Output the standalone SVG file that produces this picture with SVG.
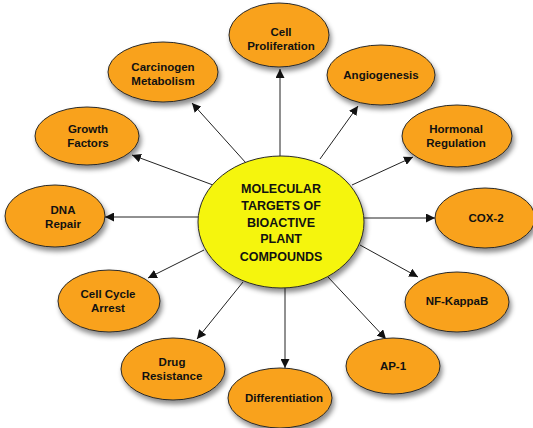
<svg xmlns="http://www.w3.org/2000/svg" width="533" height="428" viewBox="0 0 533 428">
<defs>
<filter id="sh" x="-20%" y="-20%" width="150%" height="160%">
<feDropShadow dx="2" dy="4" stdDeviation="2.5" flood-color="#000" flood-opacity="0.45"/>
</filter>
<marker id="ah" viewBox="0 0 10 10" refX="10" refY="5" markerWidth="9" markerHeight="9" markerUnits="userSpaceOnUse" orient="auto">
<path d="M0,0 L10,5 L0,10 Z" fill="#111"/>
</marker>
<style>
.n ellipse{fill:#F9A21A;stroke:#2a2a2a;stroke-width:1;filter:url(#sh)}
.c ellipse{fill:#F5F50C;stroke:#2a2a2a;stroke-width:1;filter:url(#sh)}
text{font-family:"Liberation Sans",Arial,sans-serif;font-weight:bold;fill:#111;text-anchor:middle}
.n text{font-size:11.5px}
.c text{font-size:12.5px}
.e line{stroke:#222;stroke-width:1;marker-end:url(#ah)}
</style>
</defs>
<rect width="533" height="428" fill="#fff"/>
<g class="e" id="connectors">
<line x1="280" y1="157" x2="280" y2="69"/>
<line x1="246" y1="163" x2="192" y2="103"/>
<line x1="320" y1="159" x2="358" y2="106"/>
<line x1="213" y1="185" x2="132" y2="155"/>
<line x1="352" y1="185" x2="413" y2="157"/>
<line x1="198" y1="217" x2="105" y2="217"/>
<line x1="364" y1="218" x2="435" y2="218"/>
<line x1="204" y1="250" x2="148" y2="278"/>
<line x1="360" y1="245" x2="418" y2="277"/>
<line x1="243" y1="282" x2="197" y2="339"/>
<line x1="328" y1="277" x2="386" y2="339"/>
<line x1="285" y1="288" x2="285" y2="368"/>
</g>
<g class="c" id="center">
<ellipse cx="281" cy="222" rx="83" ry="66"/>
<text x="281" y="193">MOLECULAR</text>
<text x="281" y="210">TARGETS OF</text>
<text x="281" y="227">BIOACTIVE</text>
<text x="281" y="243">PLANT</text>
<text x="281" y="261">COMPOUNDS</text>
</g>
<g class="n" id="cell-proliferation">
<ellipse cx="279" cy="35" rx="50" ry="32"/>
<text x="281" y="36">Cell</text>
<text x="281" y="50">Proliferation</text>
</g>
<g class="n" id="carcinogen-metabolism">
<ellipse cx="163" cy="72" rx="55" ry="30"/>
<text x="163" y="71">Carcinogen</text>
<text x="163" y="85">Metabolism</text>
</g>
<g class="n" id="angiogenesis">
<ellipse cx="381" cy="75" rx="54" ry="30"/>
<text x="381" y="79">Angiogenesis</text>
</g>
<g class="n" id="growth-factors">
<ellipse cx="87" cy="136" rx="52" ry="29"/>
<text x="88" y="133">Growth</text>
<text x="88" y="147">Factors</text>
</g>
<g class="n" id="hormonal-regulation">
<ellipse cx="457" cy="136" rx="55" ry="31"/>
<text x="456" y="133">Hormonal</text>
<text x="456" y="147">Regulation</text>
</g>
<g class="n" id="dna-repair">
<ellipse cx="55" cy="216" rx="50" ry="31"/>
<text x="63" y="214">DNA</text>
<text x="63" y="228">Repair</text>
</g>
<g class="n" id="cox-2">
<ellipse cx="485" cy="218" rx="50" ry="30"/>
<text x="486" y="222">COX-2</text>
</g>
<g class="n" id="cell-cycle-arrest">
<ellipse cx="109" cy="301" rx="51" ry="31"/>
<text x="108" y="298">Cell Cycle</text>
<text x="108" y="312">Arrest</text>
</g>
<g class="n" id="nf-kappab">
<ellipse cx="457" cy="302" rx="52" ry="30"/>
<text x="457" y="305">NF-KappaB</text>
</g>
<g class="n" id="drug-resistance">
<ellipse cx="173" cy="369" rx="52" ry="31"/>
<text x="172" y="366">Drug</text>
<text x="172" y="380">Resistance</text>
</g>
<g class="n" id="ap-1">
<ellipse cx="393" cy="366" rx="47" ry="28"/>
<text x="393" y="370">AP-1</text>
</g>
<g class="n" id="differentiation">
<ellipse cx="280" cy="398" rx="52" ry="30"/>
<text x="284" y="402">Differentiation</text>
</g>
</svg>
